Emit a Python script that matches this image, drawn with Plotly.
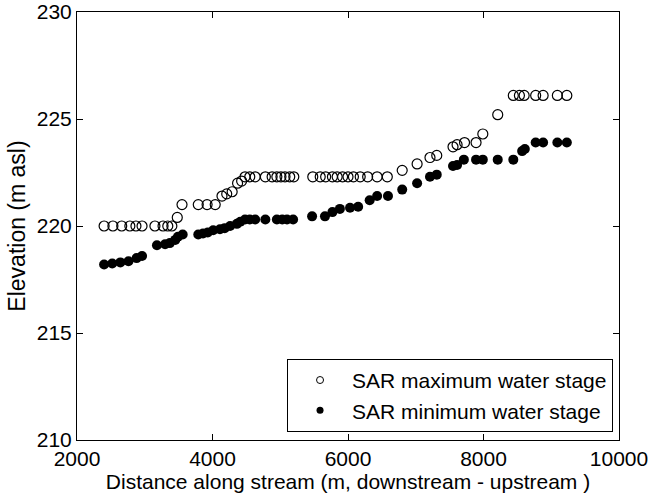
import plotly.graph_objects as go

# SAR-derived maximum water stage along the stream
max_dist = [2400, 2530, 2660, 2780, 2870, 2960, 3150, 3270, 3340, 3400, 3480, 3550,
            3790, 3920, 4040, 4140, 4210, 4290, 4370, 4430, 4480, 4550, 4630, 4780,
            4880, 4950, 5010, 5070, 5140, 5200, 5480, 5590, 5670, 5770, 5840, 5920,
            6000, 6080, 6180, 6290, 6430, 6580, 6800, 7020, 7210, 7310, 7550, 7610,
            7720, 7890, 7990, 8210, 8440, 8530, 8600, 8770, 8880, 9090, 9230]
max_elev = [220.0, 220.0, 220.0, 220.0, 220.0, 220.0, 220.0, 220.0, 220.0, 220.0, 220.4, 221.0,
            221.0, 221.0, 221.0, 221.4, 221.5, 221.6, 222.0, 222.1, 222.3, 222.3, 222.3, 222.3,
            222.3, 222.3, 222.3, 222.3, 222.3, 222.3, 222.3, 222.3, 222.3, 222.3, 222.3, 222.3,
            222.3, 222.3, 222.3, 222.3, 222.3, 222.3, 222.6, 222.9, 223.2, 223.3, 223.7, 223.8,
            223.9, 223.9, 224.3, 225.2, 226.1, 226.1, 226.1, 226.1, 226.1, 226.1, 226.1]

# SAR-derived minimum water stage along the stream
min_dist = [2400, 2520, 2640, 2760, 2880, 2960, 3180, 3300, 3370, 3450, 3490, 3560,
            3790, 3860, 3930, 4010, 4110, 4180, 4260, 4360, 4410, 4480, 4550, 4630,
            4780, 4950, 5030, 5100, 5190, 5470, 5660, 5770, 5880, 6030, 6150, 6320,
            6430, 6590, 6800, 7020, 7210, 7310, 7550, 7610, 7710, 7890, 7990, 8210,
            8440, 8570, 8610, 8770, 8880, 9090, 9230]
min_elev = [218.2, 218.25, 218.3, 218.35, 218.5, 218.6, 219.1, 219.15, 219.2, 219.35, 219.5, 219.6,
            219.6, 219.65, 219.7, 219.8, 219.85, 219.9, 220.0, 220.1, 220.2, 220.3, 220.3, 220.3,
            220.3, 220.3, 220.3, 220.3, 220.3, 220.45, 220.45, 220.65, 220.8, 220.85, 220.9, 221.2,
            221.4, 221.4, 221.7, 222.0, 222.3, 222.4, 222.8, 222.85, 223.1, 223.1, 223.1, 223.1,
            223.1, 223.5, 223.6, 223.9, 223.9, 223.9, 223.9]

x_ticks = [2000, 4000, 6000, 8000, 10000]
y_ticks = [210, 215, 220, 225, 230]

FONT = "Liberation Sans, Arial, Helvetica, sans-serif"

fig = go.Figure()

fig.add_trace(go.Scatter(
    x=max_dist, y=max_elev, mode="markers", showlegend=False,
    marker=dict(symbol="circle-open", size=10, color="black", line=dict(width=1.2, color="black")),
))
fig.add_trace(go.Scatter(
    x=min_dist, y=min_elev, mode="markers", showlegend=False,
    marker=dict(symbol="circle", size=10, color="black"),
))

# legend entries with smaller symbols
fig.add_trace(go.Scatter(
    x=[None], y=[None], mode="markers", name="SAR maximum water stage",
    marker=dict(symbol="circle-open", size=7, color="black", line=dict(width=1, color="black")),
))
fig.add_trace(go.Scatter(
    x=[None], y=[None], mode="markers", name="SAR minimum water stage",
    marker=dict(symbol="circle", size=7, color="black"),
))

axis_common = dict(
    showline=True, linecolor="black", linewidth=1, mirror="ticks",
    ticks="inside", ticklen=6, tickcolor="black", tickwidth=1,
    showgrid=False, zeroline=False, automargin=False,
    tickfont=dict(family=FONT, size=21, color="black"),
)

fig.update_xaxes(
    range=[2000, 10000], tickvals=x_ticks, ticktext=[str(v) for v in x_ticks],
    title=dict(text="Distance along stream (m, downstream - upstream )",
               font=dict(family=FONT, size=21, color="black"), standoff=0),
    **axis_common,
)
fig.update_yaxes(
    range=[210, 230], tickvals=y_ticks, ticktext=[str(v) for v in y_ticks],
    title=dict(text="Elevation (m asl)", font=dict(family=FONT, size=23, color="black"), standoff=4),
    **axis_common,
)

fig.update_layout(
    width=652, height=494,
    margin=dict(l=77, r=33, t=12, b=54),
    paper_bgcolor="white", plot_bgcolor="white",
    font=dict(family=FONT, size=21, color="black"),
    legend=dict(
        x=0.989, y=0.019, xanchor="right", yanchor="bottom",
        bgcolor="white", bordercolor="black", borderwidth=1,
        font=dict(family=FONT, size=21, color="black"),
        itemwidth=54, tracegroupgap=0,
    ),
)

fig.write_html("out.html")
